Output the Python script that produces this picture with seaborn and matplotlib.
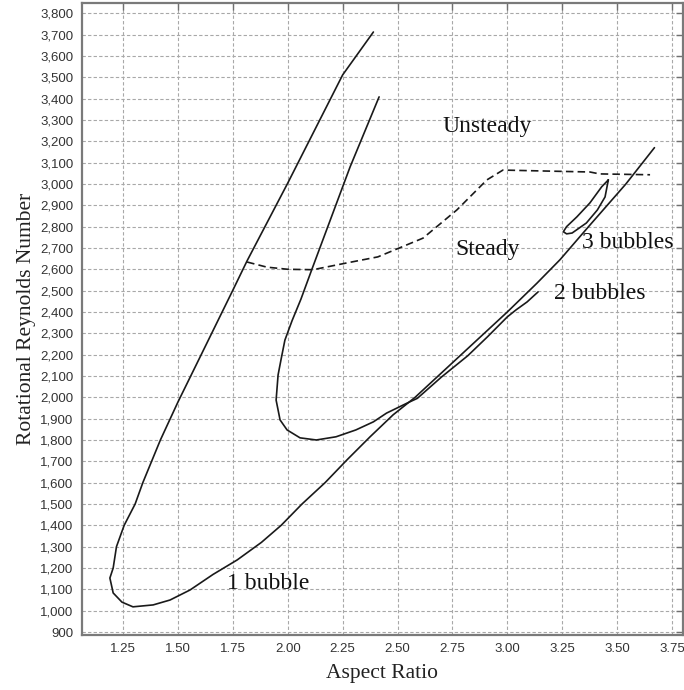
import matplotlib
matplotlib.use("Agg")
import matplotlib.pyplot as plt
import matplotlib.ticker as mticker
import numpy as np
import pandas as pd
import seaborn as sns

# ---- data ----
# outer boundary (1 bubble region)
curve1_x = [2.39, 2.25, 2.00, 1.815, 1.75, 1.606, 1.50, 1.42, 1.34,
            1.305, 1.255, 1.22, 1.205, 1.19, 1.205, 1.245, 1.295, 1.387, 1.464, 1.555,
            1.66, 1.77, 1.88, 1.97, 2.065, 2.17, 2.27, 2.375, 2.48, 2.58, 2.79, 3.00,
            3.135, 3.24, 3.37, 3.54, 3.67]
curve1_y = [3712, 3511, 3004, 2640, 2502, 2200, 1978, 1800, 1600,
            1500, 1400, 1300, 1200, 1153, 1083, 1040, 1018, 1027, 1050, 1097,
            1170, 1238, 1320, 1400, 1500, 1600, 1707, 1815, 1918, 2000, 2200, 2400,
            2535, 2645, 2800, 3000, 3170]

# inner boundary (2 bubbles region)
curve2_x = [2.416, 2.284, 2.11, 2.06, 2.02, 1.987, 1.97, 1.956, 1.947, 1.965, 1.997,
            2.056, 2.13, 2.22, 2.31, 2.39, 2.45, 2.51, 2.548, 2.59, 2.70, 2.82, 2.91,
            3.00, 3.04, 3.09, 3.14]
curve2_y = [3408, 3080, 2600, 2460, 2360, 2268, 2180, 2105, 1987, 1894, 1847,
            1810, 1800, 1815, 1847, 1885, 1926, 1956, 1975, 1995, 2095, 2195, 2284,
            2377, 2410, 2447, 2494]

# 3 bubbles closed region
curve3_x = [3.46, 3.43, 3.376, 3.317, 3.27, 3.255, 3.27, 3.295, 3.36, 3.41, 3.445, 3.46]
curve3_y = [3019, 2987, 2911, 2846, 2800, 2776, 2766, 2770, 2817, 2878, 2939, 3019]

# steady / unsteady boundary (dashed)
stab_x = [1.815, 1.905, 2.00, 2.115, 2.27, 2.41, 2.616, 2.77, 2.907, 2.98, 3.15, 3.376, 3.42, 3.65]
stab_y = [2634, 2610, 2600, 2598, 2630, 2658, 2746, 2878, 3019, 3065, 3061, 3056, 3047, 3043]

x_ticks = [1.25, 1.50, 1.75, 2.00, 2.25, 2.50, 2.75, 3.00, 3.25, 3.50, 3.75]
y_ticks = list(range(900, 3801, 100))

labels_text = ["Unsteady", "Steady", "3 bubbles", "2 bubbles", "1 bubble"]
labels_x = [2.908, 2.912, 3.34, 3.213, 1.724]
labels_y = [3245, 2668, 2699, 2461, 1101]
labels_ha = ["center", "center", "left", "left", "left"]

# ---- plotting ----
sns.set_style("white")
plt.rcParams["font.family"] = ["Liberation Sans", "DejaVu Sans"]

fig = plt.figure(figsize=(6.84, 6.90), dpi=100)
ax = fig.add_axes([82 / 684, 1 - 635 / 690, (683 - 82) / 684, (635 - 3) / 690])

line_color = "#1a1a1a"
lw = 1.2

def draw(xs, ys, **kw):
    df = pd.DataFrame({"x": xs, "y": ys})
    sns.lineplot(data=df, x="x", y="y", sort=False, estimator=None, ax=ax,
                 color=line_color, linewidth=lw, **kw)

draw(curve1_x, curve1_y)
draw(curve2_x, curve2_y)
draw(curve3_x, curve3_y)
draw(stab_x, stab_y, linestyle=(0, (4.5, 2.5)))

ax.set_xlim(1.063, 3.80)
ax.set_ylim(886, 3848)
ax.set_xticks(x_ticks)
ax.set_yticks(y_ticks)
ax.xaxis.set_major_formatter(mticker.FormatStrFormatter("%.2f"))
ax.yaxis.set_major_formatter(mticker.FuncFormatter(lambda v, p: f"{int(v):,}"))

ax.grid(True, color="#a8a8a8", linestyle=(0, (3, 2)), linewidth=0.8)
ax.set_axisbelow(True)

ax.tick_params(axis="both", direction="in", length=5, width=1.0, color="#707070",
               labelsize=9.5, labelcolor="#333333", top=True, right=True,
               labeltop=False, labelright=False, pad=6)

for s in ax.spines.values():
    s.set_color("#7a7a7a")
    s.set_linewidth(1.6)
    s.set_visible(True)

serif = ["Liberation Serif", "DejaVu Serif"]
ax.set_xlabel("Aspect Ratio", family=serif, fontsize=15.5, color="#222222", labelpad=6)
ax.set_ylabel("Rotational Reynolds Number", family=serif, fontsize=15.5, color="#222222",
              labelpad=3)

for t, x, y, ha in zip(labels_text, labels_x, labels_y, labels_ha):
    ax.text(x, y, t, family=serif, fontsize=17, ha=ha, va="baseline", color="#111111")

fig.savefig("out.png", dpi=100)
